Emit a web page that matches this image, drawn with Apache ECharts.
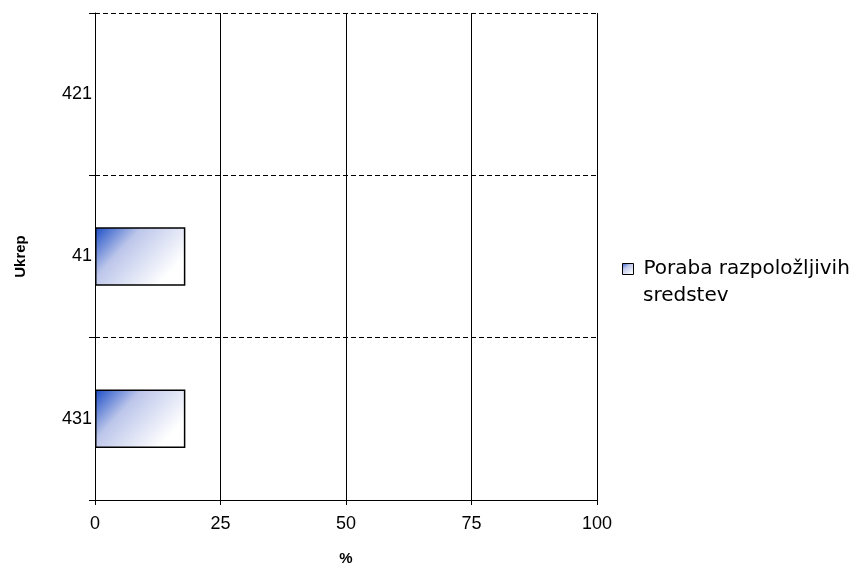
<!DOCTYPE html>
<html><head><meta charset="utf-8">
<script src="https://cdn.jsdelivr.net/npm/echarts@6/dist/echarts.min.js"></script>
<style>html,body{margin:0;padding:0;background:#fff}#c{width:859px;height:565px}</style>
</head><body><div id="c"></div>
<script>
const categories = ['431', '41', '421'];
const values = [18, 18, null];
const seriesName = 'Poraba razpoložljivih sredstev';
const legendLines = ['Poraba razpoložljivih', 'sredstev'];
const xTicks = [0, 25, 50, 75, 100];

const grad = new echarts.graphic.LinearGradient(0, 0, 0.7, 1, [
  {offset: 0, color: '#1a4cc6'},
  {offset: 0.4, color: '#bcc6ea'},
  {offset: 1, color: '#ffffff'}
]);
const font = 'Liberation Sans, Arial, sans-serif';
const legendFont = 'DejaVu Sans, Liberation Sans, sans-serif';
const chart = echarts.init(document.getElementById('c'), null, {renderer: 'canvas'});
chart.setOption({
  animation: false,
  textStyle: {fontFamily: font},
  grid: {left: 95, right: 262, top: 13, bottom: 65, containLabel: false, outerBoundsMode: 'none'},
  legend: {
    left: 622, top: 259, orient: 'vertical',
    itemWidth: 11, itemHeight: 11, itemGap: 10, padding: 0,
    icon: 'rect',
    textStyle: {fontFamily: legendFont, fontSize: 20, color: '#000', padding: [0, 0, 0, 5]},
    formatter: function () { return legendLines[0]; },
    data: [{name: seriesName, itemStyle: {color: grad, borderColor: '#000', borderWidth: 1}}]
  },
  graphic: [{
    type: 'text', left: 643, top: 286,
    style: {text: legendLines[1], fontFamily: legendFont, fontSize: 20, fill: '#000'}
  }],
  xAxis: {
    type: 'value', min: 0, max: 100, interval: 25,
    name: '%', nameLocation: 'middle', nameGap: 51,
    nameTextStyle: {fontFamily: font, fontSize: 15, fontWeight: 'bold', color: '#000'},
    axisLine: {show: true, lineStyle: {color: '#000', width: 1}},
    axisTick: {show: true, length: 5, lineStyle: {color: '#000'}},
    axisLabel: {fontFamily: font, fontSize: 18, color: '#000', margin: 15,
      formatter: function (v) { return xTicks.indexOf(v) >= 0 ? String(v) : ''; }},
    splitLine: {show: true, lineStyle: {color: '#000', width: 1}}
  },
  yAxis: {
    type: 'category', data: categories,
    name: 'Ukrep', nameLocation: 'middle', nameGap: 67, nameRotate: 90,
    nameTextStyle: {fontFamily: font, fontSize: 15, fontWeight: 'bold', color: '#000'},
    axisLine: {show: true, lineStyle: {color: '#000', width: 1}},
    axisTick: {show: true, length: 6, lineStyle: {color: '#000'}},
    axisLabel: {fontFamily: font, fontSize: 18, color: '#000', margin: 3},
    splitLine: {show: true, lineStyle: {color: '#000', width: 1, type: [5, 3]}}
  },
  series: [{
    name: seriesName, type: 'bar', data: values, barWidth: '36%',
    itemStyle: {color: grad, borderColor: '#000', borderWidth: 1.5}
  }]
});
</script></body></html>
